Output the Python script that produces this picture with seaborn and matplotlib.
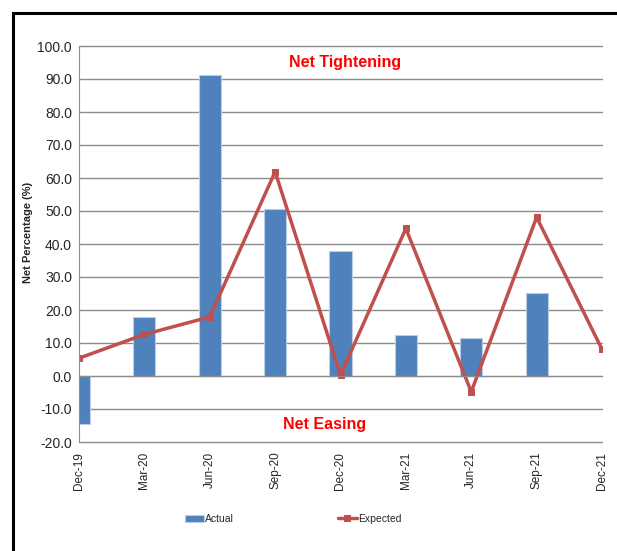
import numpy as np
import pandas as pd
import matplotlib
matplotlib.use('Agg')
import matplotlib.pyplot as plt
import seaborn as sns
from matplotlib.patches import Rectangle

# datos
trimestres = ['Dec-19', 'Mar-20', 'Jun-20', 'Sep-20', 'Dec-20', 'Mar-21', 'Jun-21', 'Sep-21', 'Dec-21']
actual = [-14.6, 17.9, 91.2, 50.5, 37.8, 12.5, 11.4, 25.1, np.nan]
expected = [5.4, 12.6, 17.9, 61.9, 0.3, 44.7, -4.8, 48.1, 8.1]
y_ticks = np.arange(-20, 101, 10)

sns.set_style('white')
plt.rcParams['font.family'] = ['Liberation Sans', 'DejaVu Sans']

datos = pd.DataFrame({'Trimestre': trimestres, 'Actual': actual, 'Expected': expected})
datos['pos'] = np.arange(len(datos))

fig = plt.figure(figsize=(6.17, 5.51), dpi=100)
ax = fig.add_axes([79 / 617, 1 - 442 / 551, (602 - 79) / 617, (442 - 46) / 551])

# barras y linea
sns.barplot(data=datos, x='pos', y='Actual', native_scale=True, width=0.34,
            color='#4F81BD', edgecolor='#B9CDE5', linewidth=0.8, saturation=1,
            ax=ax, label='Actual')
sns.lineplot(data=datos, x='pos', y='Expected', color='#C0504D', lw=2.5,
             marker='s', markersize=5, markeredgecolor='#C0504D', ax=ax, label='Expected')

ax.set_xlim(0, 8)
ax.set_ylim(-20, 100)
ax.set_yticks(y_ticks, labels=[f'{v:.1f}' for v in y_ticks], fontsize=10)
ax.yaxis.grid(True, color='#8c8c8c', lw=1)
for gl in ax.get_ygridlines():
    gl.set_clip_on(False)
ax.set_axisbelow(True)

for s in ['top', 'right']:
    ax.spines[s].set_visible(False)
ax.spines['left'].set_color('#8c8c8c')
ax.spines['bottom'].set_color('#8c8c8c')
ax.spines['bottom'].set_position(('data', 0))
ax.tick_params(axis='y', length=3, color='#8c8c8c', pad=2)
ax.set_xticks(datos['pos'])
ax.tick_params(axis='x', length=4, color='#8c8c8c', labelbottom=False)
ax.set_xlabel('')

# etiquetas del eje x abajo
sec = ax.secondary_xaxis('bottom')
sec.set_xticks(datos['pos'], labels=trimestres, rotation=90, fontsize=8.5)
sec.tick_params(length=0, pad=7)
sec.spines['bottom'].set_visible(False)

ax.set_ylabel('Net Percentage (%)', fontweight='bold', fontsize=8)
ax.yaxis.set_label_coords((33 - 79) / 523, (442 - 232) / 396)

ax.text(4.07, 95, 'Net Tightening', color='#FF0000', fontsize=11.5, fontweight='bold',
        ha='center', va='center')
ax.text(3.75, -14.8, 'Net Easing', color='#FF0000', fontsize=11.5, fontweight='bold',
        ha='center', va='center')

h, l = ax.get_legend_handles_labels()
orden = [l.index('Actual'), l.index('Expected')]
ax.legend([h[i] for i in orden], [l[i] for i in orden], loc='center',
          bbox_to_anchor=(0.475, 0.058), bbox_transform=fig.transFigure,
          ncol=2, frameon=False, fontsize=7.5, columnspacing=10, handlelength=1.8,
          handletextpad=0.1)

# marco negro
fig.add_artist(Rectangle((13 / 617, -0.05), 1.2, (551 - 13) / 551 + 0.05,
                         transform=fig.transFigure, fill=False, lw=2.2, ec='black'))

fig.savefig('out.png', dpi=100)
